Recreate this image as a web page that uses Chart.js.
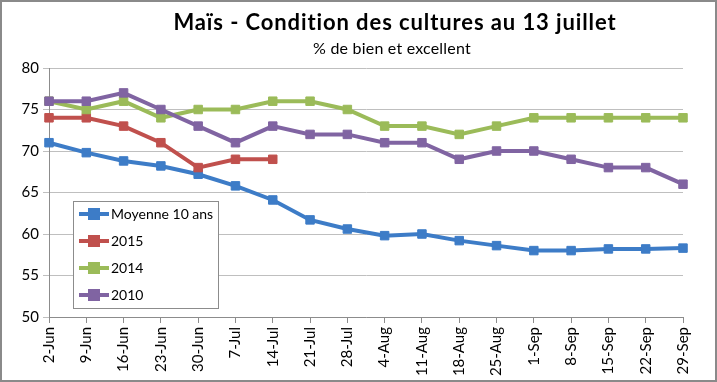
<!DOCTYPE html>
<html><head><meta charset="utf-8">
<script src="https://cdn.jsdelivr.net/npm/chart.js@4"></script>
<style>html,body{margin:0;padding:0;background:#fff;}#wrap{width:717px;height:382px;position:relative;}</style>
</head><body>
<div id="wrap"><canvas id="c" width="717" height="382"></canvas></div>
<script>
const categories = ["2-Jun","9-Jun","16-Jun","23-Jun","30-Jun","7-Jul","14-Jul","21-Jul","28-Jul","4-Aug","11-Aug","18-Aug","25-Aug","1-Sep","8-Sep","15-Sep","22-Sep","29-Sep"];
const moyenne10ans = [71, 69.8, 68.8, 68.2, 67.2, 65.8, 64.1, 61.7, 60.6, 59.8, 60.0, 59.2, 58.6, 58.0, 58.0, 58.2, 58.2, 58.3];
const y2015 = [74, 74, 73, 71, 68, 69, 69];
const y2014 = [76, 75, 76, 74, 75, 75, 76, 76, 75, 73, 73, 72, 73, 74, 74, 74, 74, 74];
const y2010 = [76, 76, 77, 75, 73, 71, 73, 72, 72, 71, 71, 69, 70, 70, 69, 68, 68, 66];
const seriesNames = ["Moyenne 10 ans", "2015", "2014", "2010"];
const yTicks = [50, 55, 60, 65, 70, 75, 80];
const titleText = "Maïs - Condition des cultures au 13 juillet";
const subtitleText = "% de bien et excellent";

const colors = ["#3d7cc7", "#c0504d", "#9bbb59", "#8064a2"];
const FONT = "Lato, 'Open Sans', sans-serif";

function ds(label, data, color, order) {
  return {label, data, borderColor: color, backgroundColor: color, borderWidth: 4,
    pointStyle: 'rect', pointRadius: 6, pointHoverRadius: 6, pointBorderWidth: 1,
    pointBorderColor: color, pointBackgroundColor: color, tension: 0, order, fill: false};
}

const deco = {
  id: 'deco',
  afterDraw(chart) {
    const ctx = chart.ctx;
    ctx.save();
    ctx.strokeStyle = '#8a8a8a'; ctx.lineWidth = 2;
    ctx.strokeRect(1, 1, 715, 380);
    ctx.fillStyle = '#000'; ctx.textAlign = 'center'; ctx.textBaseline = 'middle';
    ctx.font = "bold 22px " + FONT;
    ctx.letterSpacing = "0.9px";
    ctx.fillText(titleText, 395, 23);
    ctx.font = "16px " + FONT;
    ctx.letterSpacing = "0.2px";
    ctx.fillText(subtitleText, 392, 49);
    ctx.letterSpacing = "0px";
    // legend
    const lx = 73, ly = 201, lw = 145, lh = 107;
    ctx.fillStyle = '#fff'; ctx.fillRect(lx, ly, lw, lh);
    ctx.strokeStyle = '#8c8c8c'; ctx.lineWidth = 1;
    ctx.strokeRect(lx + 0.5, ly + 0.5, lw, lh);
    const ys = [214, 241, 268, 295];
    chart.data.datasets.forEach((d, i) => {
      const y = ys[i];
      ctx.strokeStyle = d.borderColor; ctx.lineWidth = 4;
      ctx.beginPath(); ctx.moveTo(79, y); ctx.lineTo(109, y); ctx.stroke();
      ctx.fillStyle = d.borderColor; ctx.fillRect(88, y - 6, 12, 12);
      ctx.fillStyle = '#000'; ctx.textAlign = 'left'; ctx.textBaseline = 'middle';
      ctx.font = "14px " + FONT;
      ctx.fillText(d.label, 111, y);
    });
    ctx.restore();
  }
};

new Chart(document.getElementById('c'), {
  type: 'line',
  data: {
    labels: categories,
    datasets: [
      ds(seriesNames[0], moyenne10ans, colors[0], 3),
      ds(seriesNames[1], y2015, colors[1], 2),
      ds(seriesNames[2], y2014, colors[2], 1),
      ds(seriesNames[3], y2010, colors[3], 0)
    ]
  },
  options: {
    responsive: false, animation: false,
    layout: {padding: {left: 0, top: 68, right: 34, bottom: 0}},
    plugins: {legend: {display: false}, title: {display: false}, tooltip: {enabled: false}},
    scales: {
      x: {
        offset: false,
        grid: {display: true, drawOnChartArea: false, drawTicks: true, tickLength: 6, color: '#8c8c8c'},
        border: {color: '#8c8c8c', width: 1},
        ticks: {minRotation: 90, maxRotation: 90, autoSkip: false, color: '#000', font: {family: FONT, size: 15}, padding: 4},
        afterFit(s) { s.height = 65; }
      },
      y: {
        min: 50, max: 80,
        afterBuildTicks(s) { s.ticks = yTicks.map(v => ({value: v})); },
        grid: {color: '#bfbfbf', lineWidth: 1, drawTicks: true, tickLength: 6},
        border: {color: '#8c8c8c', width: 1},
        ticks: {color: '#000', font: {family: FONT, size: 15}, padding: 4},
        afterFit(s) { s.width = 49; }
      }
    }
  },
  plugins: [deco]
});
</script>
</body></html>
